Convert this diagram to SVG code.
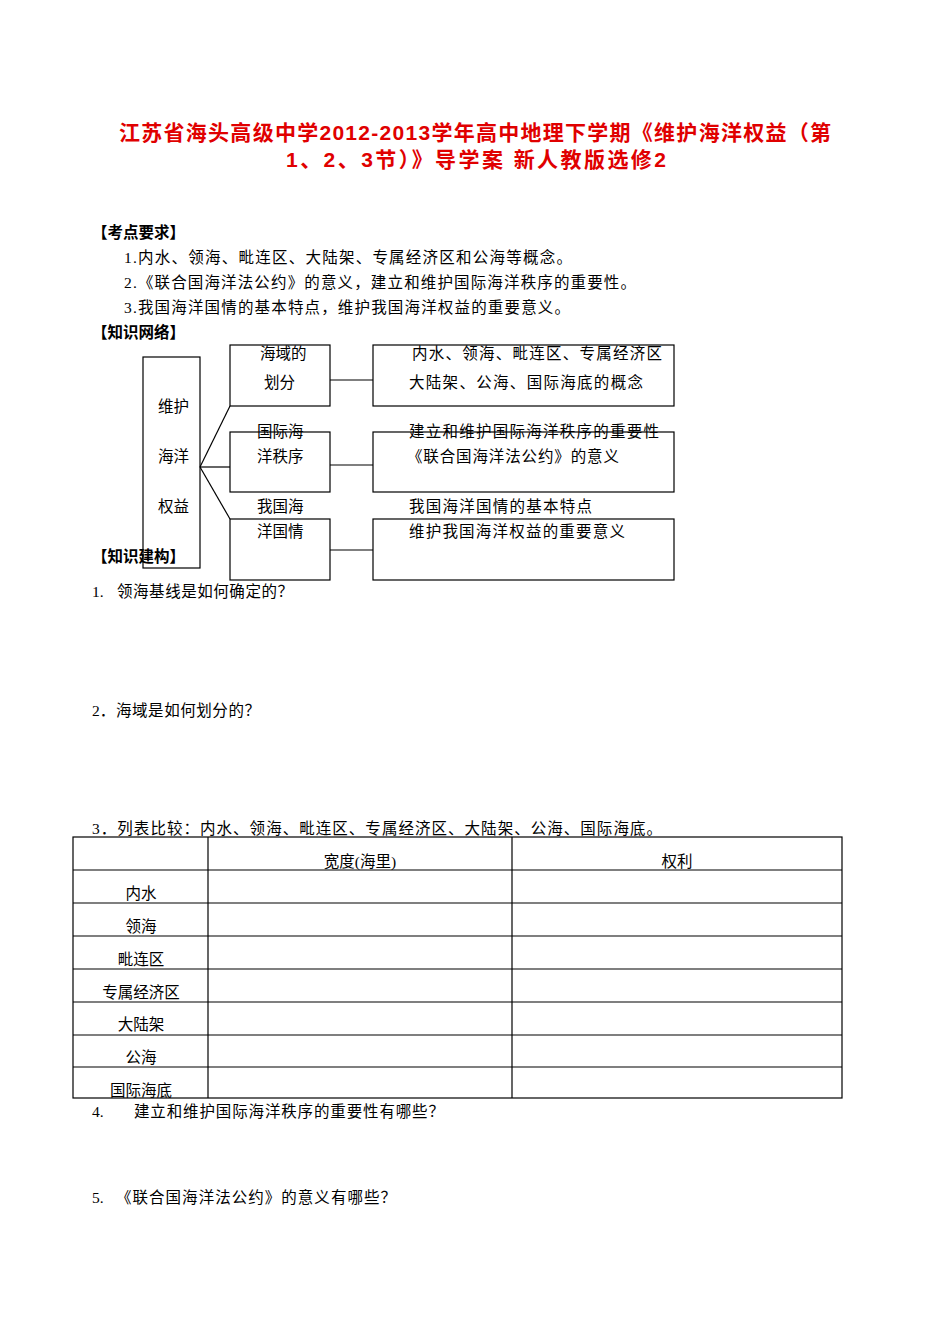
<svg xmlns="http://www.w3.org/2000/svg" width="950" height="1344" viewBox="0 0 950 1344">
<style>
text{font-family:"Liberation Serif","Noto Sans CJK SC",serif;font-size:15.5px;fill:#000}
.t{font-size:21px;font-weight:bold;fill:#e00000;font-family:"Liberation Sans","Noto Sans CJK SC",sans-serif}
.b{font-weight:bold;font-family:"Liberation Sans","Noto Sans CJK SC",sans-serif}
rect{fill:none;stroke:#000;stroke-width:1.2}
line{stroke:#000;stroke-width:1.2}
</style>
<rect x="0" y="0" width="950" height="1344" style="fill:#fff;stroke:none"/>
<text class="t" x="119" y="140" textLength="712" lengthAdjust="spacing">江苏省海头高级中学2012-2013学年高中地理下学期《维护海洋权益（第</text>
<text class="t" x="286" y="167" textLength="380" lengthAdjust="spacing">1、2、3节）》导学案 新人教版选修2</text>
<text class="b" x="92" y="238">【考点要求】</text>
<text x="124" y="263" textLength="448" lengthAdjust="spacing">1.内水、领海、毗连区、大陆架、专属经济区和公海等概念。</text>
<text x="124" y="288" textLength="512" lengthAdjust="spacing">2.《联合国海洋法公约》的意义，建立和维护国际海洋秩序的重要性。</text>
<text x="124" y="313" textLength="446" lengthAdjust="spacing">3.我国海洋国情的基本特点，维护我国海洋权益的重要意义。</text>
<text class="b" x="92" y="338">【知识网络】</text>
<g id="root"><rect x="143" y="357" width="57" height="211"/><text x="158" y="412">维护</text><text x="158" y="462">海洋</text><text x="158" y="512">权益</text></g>
<g id="n1"><rect x="230" y="345" width="100" height="61"/><text x="260" y="359">海域的</text><text x="264" y="388">划分</text></g>
<g id="n2"><rect x="230" y="432" width="100" height="60"/><text x="257" y="437">国际海</text><text x="257" y="462">洋秩序</text></g>
<g id="n3"><rect x="230" y="519" width="100" height="61"/><text x="257" y="512">我国海</text><text x="257" y="537">洋国情</text></g>
<g id="d1"><rect x="373" y="345" width="301" height="61"/><text x="412" y="359" textLength="250" lengthAdjust="spacing">内水、领海、毗连区、专属经济区</text><text x="409" y="388" textLength="234" lengthAdjust="spacing">大陆架、公海、国际海底的概念</text></g>
<g id="d2"><rect x="373" y="432" width="301" height="60"/><text x="409" y="437" textLength="250" lengthAdjust="spacing">建立和维护国际海洋秩序的重要性</text><text x="407" y="462" textLength="212" lengthAdjust="spacing">《联合国海洋法公约》的意义</text></g>
<g id="d3"><rect x="373" y="519" width="301" height="61"/><text x="409" y="512" textLength="183" lengthAdjust="spacing">我国海洋国情的基本特点</text><text x="409" y="537" textLength="216" lengthAdjust="spacing">维护我国海洋权益的重要意义</text></g>
<g id="connectors">
<line x1="200" y1="467" x2="230" y2="406"/><line x1="200" y1="467" x2="230" y2="467"/><line x1="200" y1="467" x2="230" y2="519"/>
<line x1="330" y1="380" x2="373" y2="380"/><line x1="330" y1="465" x2="373" y2="465"/><line x1="330" y1="550" x2="373" y2="550"/>
</g>
<text class="b" x="92" y="562">【知识建构】</text>
<text x="92" y="597">1.</text><text x="117" y="597" textLength="176" lengthAdjust="spacing">领海基线是如何确定的？</text>
<text x="92" y="716">2．</text><text x="116" y="716" textLength="144" lengthAdjust="spacing">海域是如何划分的？</text>
<text x="92" y="834" textLength="570" lengthAdjust="spacing">3．列表比较：内水、领海、毗连区、专属经济区、大陆架、公海、国际海底。</text>
<g id="table">
<rect x="73" y="837" width="769" height="261"/>
<line x1="208" y1="837" x2="208" y2="1098"/><line x1="512" y1="837" x2="512" y2="1098"/>
<line x1="73" y1="870" x2="842" y2="870"/><line x1="73" y1="903" x2="842" y2="903"/><line x1="73" y1="936" x2="842" y2="936"/><line x1="73" y1="969" x2="842" y2="969"/><line x1="73" y1="1002" x2="842" y2="1002"/><line x1="73" y1="1035" x2="842" y2="1035"/><line x1="73" y1="1067" x2="842" y2="1067"/>
<text x="360" y="867" text-anchor="middle">宽度(海里)</text><text x="677" y="867" text-anchor="middle">权利</text>
<text x="141" y="899" text-anchor="middle">内水</text><text x="141" y="932" text-anchor="middle">领海</text><text x="141" y="965" text-anchor="middle">毗连区</text><text x="141" y="998" text-anchor="middle">专属经济区</text><text x="141" y="1030" text-anchor="middle">大陆架</text><text x="141" y="1063" text-anchor="middle">公海</text><text x="141" y="1096" text-anchor="middle">国际海底</text>
</g>
<text x="92" y="1117">4.</text><text x="134" y="1117" textLength="310" lengthAdjust="spacing">建立和维护国际海洋秩序的重要性有哪些？</text>
<text x="92" y="1203">5.</text><text x="116" y="1203" textLength="280" lengthAdjust="spacing">《联合国海洋法公约》的意义有哪些？</text>
</svg>
